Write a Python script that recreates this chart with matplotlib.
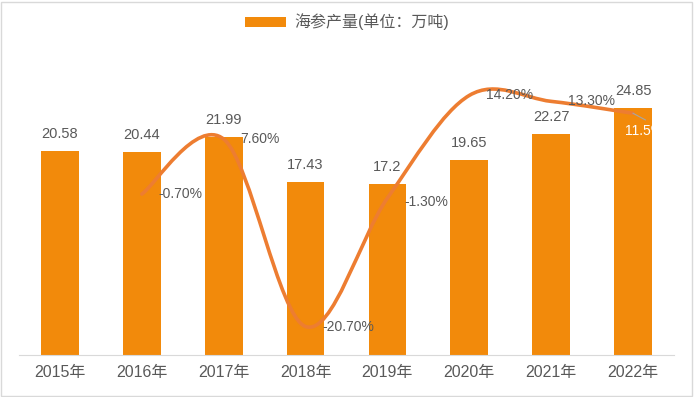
import numpy as np
import matplotlib.pyplot as plt
from matplotlib.path import Path
from matplotlib.patches import PathPatch, Rectangle

plt.rcParams['font.family'] = ['Liberation Sans', 'Noto Sans CJK SC', 'DejaVu Sans']

years = ['2015年', '2016年', '2017年', '2018年', '2019年', '2020年', '2021年', '2022年']
output = [20.58, 20.44, 21.99, 17.43, 17.2, 19.65, 22.27, 24.85]
growth = [None, -0.7, 7.6, -20.7, -1.3, 14.2, 13.3, 11.5]
growth_labels = ['', '-0.70%', '7.60%', '-20.70%', '-1.30%', '14.20%', '13.30%', '11.5%']

bar_color = '#F28A0B'
line_color = '#ED7D31'
text_color = '#595959'

fig = plt.figure(figsize=(6.94, 3.97), dpi=100)
fig.patches.append(Rectangle((0.002, 0.003), 0.995, 0.993, transform=fig.transFigure,
                             fill=False, edgecolor='#D9D9D9', linewidth=1))
ax = fig.add_axes([19 / 694, 42 / 397, 655 / 694, 298 / 397])
ax2 = ax.twinx()

x = np.arange(len(years))
bars = ax.bar(x, output, width=0.46, color=bar_color, zorder=2, label='海参产量(单位：万吨)')
ax.set_ylim(0, 30)
ax.set_xlim(-0.5, len(years) - 0.5)
ax2.set_ylim(-25, 20)

for xi, v in zip(x, output):
    ax.annotate(f'{v:g}', (xi, v), xytext=(0, 7), textcoords='offset points',
                ha='center', va='bottom', fontsize=10.5, color=text_color)

# smooth line (Catmull-Rom like Excel), built in display space
idx = [i for i, g in enumerate(growth) if g is not None]
fig.canvas.draw()
pts = ax2.transData.transform(np.column_stack([x[idx], [growth[i] for i in idx]]))
verts = [pts[0]]
codes = [Path.MOVETO]
n = len(pts)
for i in range(n - 1):
    p0 = pts[i - 1] if i > 0 else pts[i]
    p1, p2 = pts[i], pts[i + 1]
    p3 = pts[i + 2] if i + 2 < n else pts[i + 1]
    c1 = p1 + (p2 - p0) / 6
    c2 = p2 - (p3 - p1) / 6
    verts += [c1, c2, p2]
    codes += [Path.CURVE4] * 3
verts = ax2.transData.inverted().transform(np.array(verts))
ax2.add_patch(PathPatch(Path(verts, codes), fill=False, edgecolor=line_color,
                        linewidth=2.6, capstyle='round', zorder=3))

for i in idx[:-1]:
    dy = -3 if growth[i] == -1.3 else 0
    ax2.annotate(growth_labels[i], (x[i], growth[i]), xytext=(12, dy), textcoords='offset points',
                 ha='left', va='center', fontsize=10, color=text_color)
last = idx[-1]
ax2.plot([x[last], x[last] + 0.15], [growth[last], growth[last] - 1.0], color='#A6A6A6', lw=0.8, zorder=4)
t = ax2.annotate(growth_labels[last], (x[last], growth[last]), xytext=(-6, -13), textcoords='offset points',
                 ha='left', va='center', fontsize=10, color='white', zorder=5)
t.set_clip_path(bars[-1])

for a in (ax, ax2):
    a.set_yticks([])
    for s in ('left', 'right', 'top'):
        a.spines[s].set_visible(False)
ax.spines['bottom'].set_color('#D9D9D9')
ax2.spines['bottom'].set_visible(False)
ax.set_xticks(x)
ax.set_xticklabels(years, fontsize=11.5, color=text_color)
ax.tick_params(axis='x', length=0, pad=7)

fig.legend(handles=[bars], labels=['海参产量(单位：万吨)'], loc='center', bbox_to_anchor=(0.5, 1 - 22 / 397),
           frameon=False, fontsize=11.5, labelcolor=text_color, handlelength=2.6, handleheight=0.6,
           handletextpad=0.5)

fig.savefig('out.png', dpi=100)
